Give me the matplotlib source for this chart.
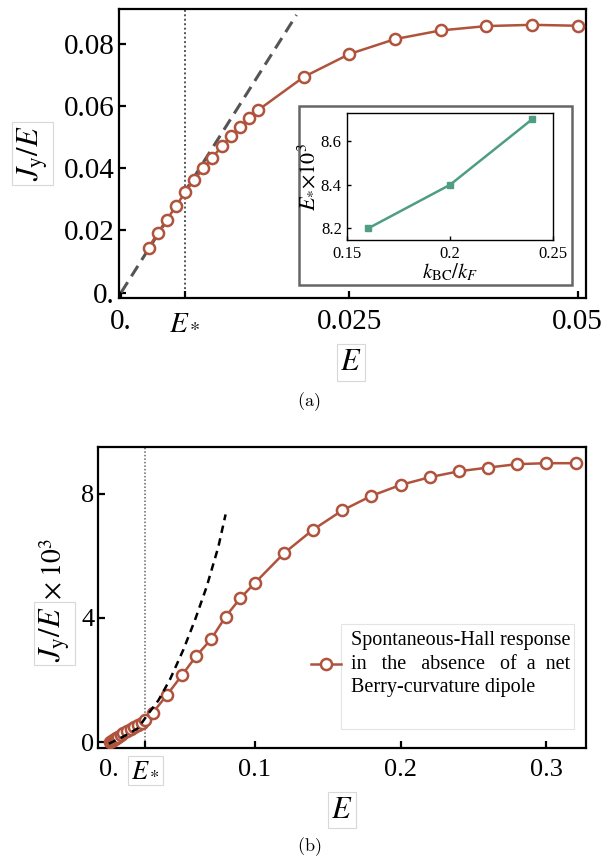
import matplotlib
matplotlib.use("Agg")
import matplotlib.pyplot as plt
from matplotlib.patches import Rectangle

plt.rcParams['font.family'] = ['Liberation Serif', 'DejaVu Serif']
plt.rcParams['mathtext.fontset'] = 'stix'

# ---- panel (a) data ----
e_a = [0.003, 0.004, 0.005, 0.006, 0.007, 0.008, 0.009, 0.010, 0.011, 0.012,
       0.013, 0.014, 0.015, 0.020, 0.025, 0.030, 0.035, 0.040, 0.045, 0.050]
j_a = [0.0144, 0.0192, 0.0235, 0.0278, 0.0323, 0.0363, 0.0400, 0.0435, 0.0471, 0.0503,
       0.0532, 0.0562, 0.0588, 0.0695, 0.0769, 0.0817, 0.0845, 0.0859, 0.0863, 0.0860]
fit_a_e = [0.0, 0.0192]
fit_a_j = [0.0, 0.0895]
estar_a = 0.007

# inset data
k_ratio = [0.16, 0.20, 0.24]
estar_1e3 = [8.20, 8.40, 8.70]

# ---- panel (b) data ----
e_b = [0.001, 0.002, 0.003, 0.004, 0.005, 0.006, 0.008, 0.010, 0.0125, 0.015,
       0.0175, 0.020, 0.0225, 0.025, 0.030, 0.04, 0.05, 0.06, 0.07, 0.08,
       0.09, 0.10, 0.12, 0.14, 0.16, 0.18, 0.20, 0.22, 0.24, 0.26,
       0.28, 0.30, 0.32]
j_b = [0.02, 0.05, 0.08, 0.11, 0.14, 0.17, 0.22, 0.28, 0.35, 0.42,
       0.49, 0.56, 0.63, 0.72, 0.94, 1.53, 2.15, 2.78, 3.31, 4.04,
       4.63, 5.12, 6.08, 6.84, 7.46, 7.93, 8.28, 8.53, 8.72, 8.84,
       8.95, 8.98, 8.98]
fit_b_e = [0.0, 0.010, 0.020, 0.026, 0.034, 0.042, 0.051, 0.059, 0.067, 0.075, 0.080]
fit_b_j = [-0.05, 0.18, 0.45, 0.85, 1.35, 2.03, 2.97, 3.93, 5.00, 6.28, 7.33]
estar_b = 0.025

red = '#b0533c'
teal = '#4f9d82'
box_kw = dict(boxstyle='square,pad=0.12', fc='white', ec='#d8d8d8', lw=0.8)

fig = plt.figure(figsize=(6.13, 8.58), dpi=100)


def style_axes(ax, size, pad_x, pad_y):
    for s in ax.spines.values():
        s.set_linewidth(1.6)
    ax.tick_params(direction='in', length=5, width=1.6, labelsize=size,
                   top=False, right=False)
    ax.tick_params(axis='x', pad=pad_x)
    ax.tick_params(axis='y', pad=pad_y)


# ================= (a) =================
ax = fig.add_axes([0.1946, 0.6530, 0.7614, 0.3365])
ax.plot(fit_a_e, fit_a_j, color='#555555', lw=2.2, dashes=(4, 2.3), zorder=2)
ax.axvline(estar_a, color='#555555', lw=1.4, ls=(0, (1, 1.3)), zorder=1)
ax.plot(e_a, j_a, color=red, lw=1.8, marker='o', ms=8, mfc='white',
        mec=red, mew=1.8, zorder=3)
ax.set_xlim(-0.0002, 0.0509)
ax.set_ylim(-0.00168, 0.0914)
ax.set_xticks([0, estar_a, 0.025, 0.05])
ax.set_xticklabels(['0.', '$E_*$', '0.025', '0.05'])
ax.set_yticks([0, 0.02, 0.04, 0.06, 0.08])
ax.set_yticklabels(['0.', '0.02', '0.04', '0.06', '0.08'])
style_axes(ax, 21, 8, 3)
ax.text(-0.186, 0.50, '$J_{\\mathrm{y}}/E$', transform=ax.transAxes, rotation=90,
        ha='center', va='center', fontsize=22, bbox=box_kw)
ax.text(0.4965, -0.2245, '$E$', transform=ax.transAxes, ha='center', va='center',
        fontsize=22, bbox=box_kw)

# inset frame and axes
fig.patches.append(Rectangle((0.4884, 0.6675), 0.4441, 0.2085, transform=fig.transFigure,
                             fill=True, fc='white', ec='#666666', lw=1.8, zorder=5))
ins = fig.add_axes([0.5667, 0.7202, 0.3352, 0.1481])
ins.set_zorder(6)
ins.plot(k_ratio, estar_1e3, color=teal, lw=1.8, marker='s', ms=5)
ins.set_xlim(0.15, 0.25)
ins.set_ylim(8.147, 8.728)
ins.set_xticks([0.15, 0.2, 0.25])
ins.set_xticklabels(['0.15', '0.2', '0.25'])
ins.set_yticks([8.2, 8.4, 8.6])
ins.set_yticklabels(['8.2', '8.4', '8.6'])
for s in ins.spines.values():
    s.set_linewidth(1.0)
ins.tick_params(direction='in', length=3, width=1.0, labelsize=12, pad=4)
ins.set_xlabel('$k_{\\mathrm{BC}}/k_F$', fontsize=15, labelpad=0)
ins.set_ylabel('$E_{*}{\\times}10^3$', fontsize=16, labelpad=2)

fig.text(0.504, 0.5315, '$\\mathrm{(a)}$', ha='center', va='center', fontsize=13,
         math_fontfamily='cm')

# ================= (b) =================
bx = fig.add_axes([0.1604, 0.1278, 0.7951, 0.3508])
bx.plot(fit_b_e, fit_b_j, color='black', lw=1.8, dashes=(3, 2.2), zorder=4)
bx.axvline(estar_b, color='#666666', lw=1.1, ls=(0, (1, 1.3)), zorder=1)
bx.plot(e_b, j_b, color=red, lw=1.8, marker='o', ms=8, mfc='white',
        mec=red, mew=1.8, zorder=3,
        label='Spontaneous-Hall response\nin   the   absence   of  a  net\nBerry-curvature dipole')
bx.set_xlim(-0.00725, 0.3269)
bx.set_ylim(-0.20, 9.49)
bx.set_xticks([0, estar_b, 0.1, 0.2, 0.3])
bx.set_xticklabels(['0.', '$E_*$', '0.1', '0.2', '0.3'])
bx.set_yticks([0, 4, 8])
bx.set_yticklabels(['0', '4', '8'])
style_axes(bx, 19, 8, 3)
bx.get_xticklabels()[1].set_bbox(box_kw)

bx.text(-0.09, 0.38, '$J_{\\mathrm{y}}/E$', transform=bx.transAxes, rotation=90,
        ha='center', va='center', fontsize=22, bbox=box_kw)
bx.text(-0.09, 0.595, '$\\times\\;10^3$', transform=bx.transAxes, rotation=90,
        ha='center', va='center', fontsize=20)
bx.text(0.50, -0.205, '$E$', transform=bx.transAxes, ha='center', va='center',
        fontsize=22, bbox=box_kw)

bx.add_patch(Rectangle((0.498, 0.065), 0.477, 0.347, transform=bx.transAxes,
                       fill=False, ec='#e4e4e4', lw=0.8, zorder=2))
leg = bx.legend(loc='upper left', bbox_to_anchor=(0.42, 0.415), frameon=False,
                fontsize=14.5, handlelength=1.5, handletextpad=0.5, borderaxespad=0)
for t in leg.get_texts():
    t.set_linespacing(1.3)

fig.text(0.504, 0.0134, '$\\mathrm{(b)}$', ha='center', va='center', fontsize=13,
         math_fontfamily='cm')

fig.savefig('out.png', dpi=100)
